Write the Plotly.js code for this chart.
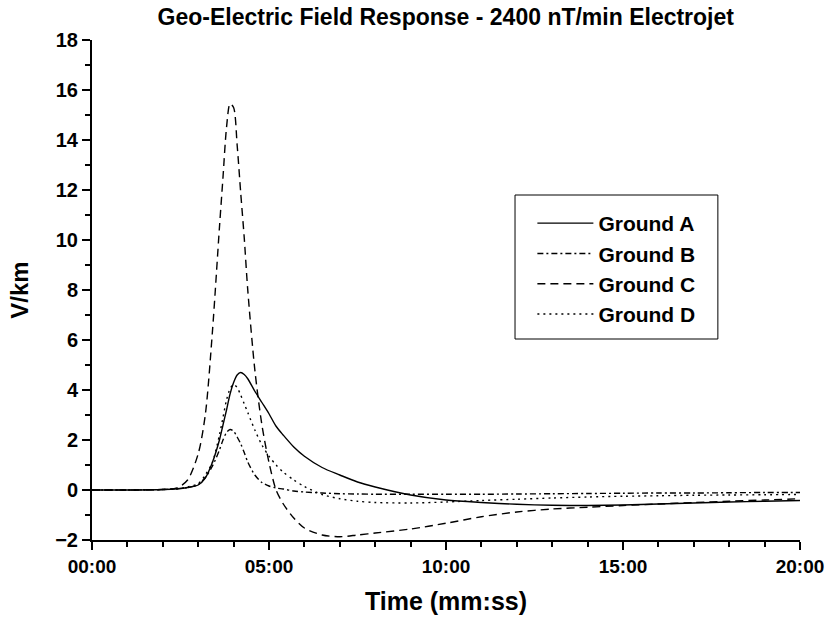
<!DOCTYPE html>
<html>
<head>
<meta charset="utf-8">
<script src="https://cdn.plot.ly/plotly-3.0.1.min.js"></script>
<style>html,body{margin:0;padding:0;background:#fff;}#chart{width:827px;height:620px;}</style>
</head>
<body>
<div id="chart"></div>
<script>
// Time in minutes
const timeMin = [0,1,2,2.4,2.7,3.0,3.2,3.4,3.6,3.7,3.8,3.9,4.0,4.1,4.2,4.3,4.4,4.6,4.8,5.0,5.2,5.4,5.7,6.0,6.5,7.0,7.5,8.0,9,10,11,12,13,14,15,16,17,18,19,20];

const groundA = [0,0,0.02,0.05,0.1,0.2,0.48,1.1,2.0,2.6,3.2,3.84,4.3,4.6,4.7,4.62,4.45,3.95,3.5,3.05,2.55,2.2,1.72,1.35,0.9,0.6,0.32,0.12,-0.2,-0.4,-0.5,-0.57,-0.61,-0.62,-0.6,-0.56,-0.52,-0.48,-0.45,-0.42];
const groundB = [0,0,0.02,0.04,0.1,0.22,0.5,0.95,1.6,2.0,2.3,2.42,2.35,2.12,1.85,1.5,1.12,0.6,0.3,0.16,0.08,0.04,-0.04,-0.08,-0.12,-0.15,-0.16,-0.17,-0.17,-0.17,-0.17,-0.16,-0.15,-0.14,-0.13,-0.12,-0.12,-0.11,-0.1,-0.1];
const groundC = [0,0,0.02,0.08,0.4,1.45,3.0,6.3,10.5,12.5,14.5,15.45,15.3,13.8,11.9,10.1,8.0,4.8,2.6,1.1,0.0,-0.55,-1.12,-1.52,-1.8,-1.87,-1.8,-1.72,-1.56,-1.33,-1.07,-0.88,-0.76,-0.69,-0.62,-0.56,-0.5,-0.45,-0.4,-0.35];
const groundD = [0,0,0.02,0.05,0.12,0.26,0.6,1.1,2.2,2.9,3.6,4.05,4.22,4.1,3.8,3.45,3.1,2.4,1.8,1.35,1.0,0.72,0.4,0.14,-0.18,-0.35,-0.45,-0.5,-0.52,-0.48,-0.42,-0.37,-0.32,-0.28,-0.25,-0.23,-0.21,-0.2,-0.19,-0.18];

const seriesNames = ['Ground A','Ground B','Ground C','Ground D'];
const xTickVals = [0,5,10,15,20];
const xTickText = ['00:00','05:00','10:00','15:00','20:00'];

const FONT = 'Liberation Sans, Arial, Helvetica, sans-serif';
const dashes = ['solid','6px,3px,2px,3px','8px,5px','2px,4px'];
const ys = [groundA, groundB, groundC, groundD];

const traces = ys.map((y,i) => ({
  x: timeMin, y: y, name: seriesNames[i], type: 'scatter', mode: 'lines',
  legendgroup: 'g'+i,
  line: {color: '#000', width: 1.4, dash: dashes[i], shape: 'spline', smoothing: 0.8},
  hoverinfo: 'skip'
}));

const layout = {
  width: 827, height: 620,
  margin: {l: 92, r: 27, t: 40, b: 80},
  paper_bgcolor: '#fff', plot_bgcolor: '#fff',
  font: {family: FONT, color: '#000', weight: 'bold'},
  title: {text: 'Geo-Electric Field Response - 2400 nT/min Electrojet',
          font: {family: FONT, size: 23, weight: 'bold', color: '#000'},
          x: 0.539, xanchor: 'center', yref: 'container', y: 0.972, yanchor: 'middle'},
  xaxis: {
    range: [0, 20], showgrid: false, zeroline: false,
    showline: true, linecolor: '#000', linewidth: 2,
    tickmode: 'array', tickvals: xTickVals, ticktext: xTickText,
    ticks: 'outside', ticklen: 8, tickwidth: 2, tickcolor: '#000',
    tickfont: {family: FONT, size: 19, weight: 'bold'},
    minor: {tickmode: 'linear', tick0: 0, dtick: 1, ticks: 'outside', ticklen: 5, tickwidth: 2, tickcolor: '#000', showgrid: false},
    title: {text: 'Time (mm:ss)', font: {family: FONT, size: 25, weight: 'bold'}, standoff: 17}
  },
  yaxis: {
    range: [-2, 18], showgrid: false, zeroline: false,
    showline: true, linecolor: '#000', linewidth: 2,
    tickmode: 'linear', tick0: 0, dtick: 2,
    ticks: 'outside', ticklen: 8, tickwidth: 2, tickcolor: '#000',
    tickfont: {family: FONT, size: 20, weight: 'bold'},
    minor: {tickmode: 'linear', tick0: 0, dtick: 1, ticks: 'outside', ticklen: 5, tickwidth: 2, tickcolor: '#000', showgrid: false},
    title: {text: 'V/km', font: {family: FONT, size: 24, weight: 'bold'}, standoff: 20}
  },
  showlegend: true,
  legend: {
    x: 0.622, y: 0.674, xanchor: 'left', yanchor: 'top',
    bgcolor: 'rgba(0,0,0,0)', borderwidth: 0,
    font: {family: FONT, size: 21, weight: 'bold', color: '#000'},
    itemwidth: 56, tracegroupgap: 8, traceorder: 'normal'
  },
  shapes: [{type: 'rect', xref: 'paper', yref: 'paper', x0: 0.5975, x1: 0.884, y0: 0.402, y1: 0.69,
            line: {color: '#000', width: 1}, fillcolor: 'rgba(0,0,0,0)'}]
};

Plotly.newPlot('chart', traces, layout, {staticPlot: true, displayModeBar: false});
</script>
</body>
</html>
